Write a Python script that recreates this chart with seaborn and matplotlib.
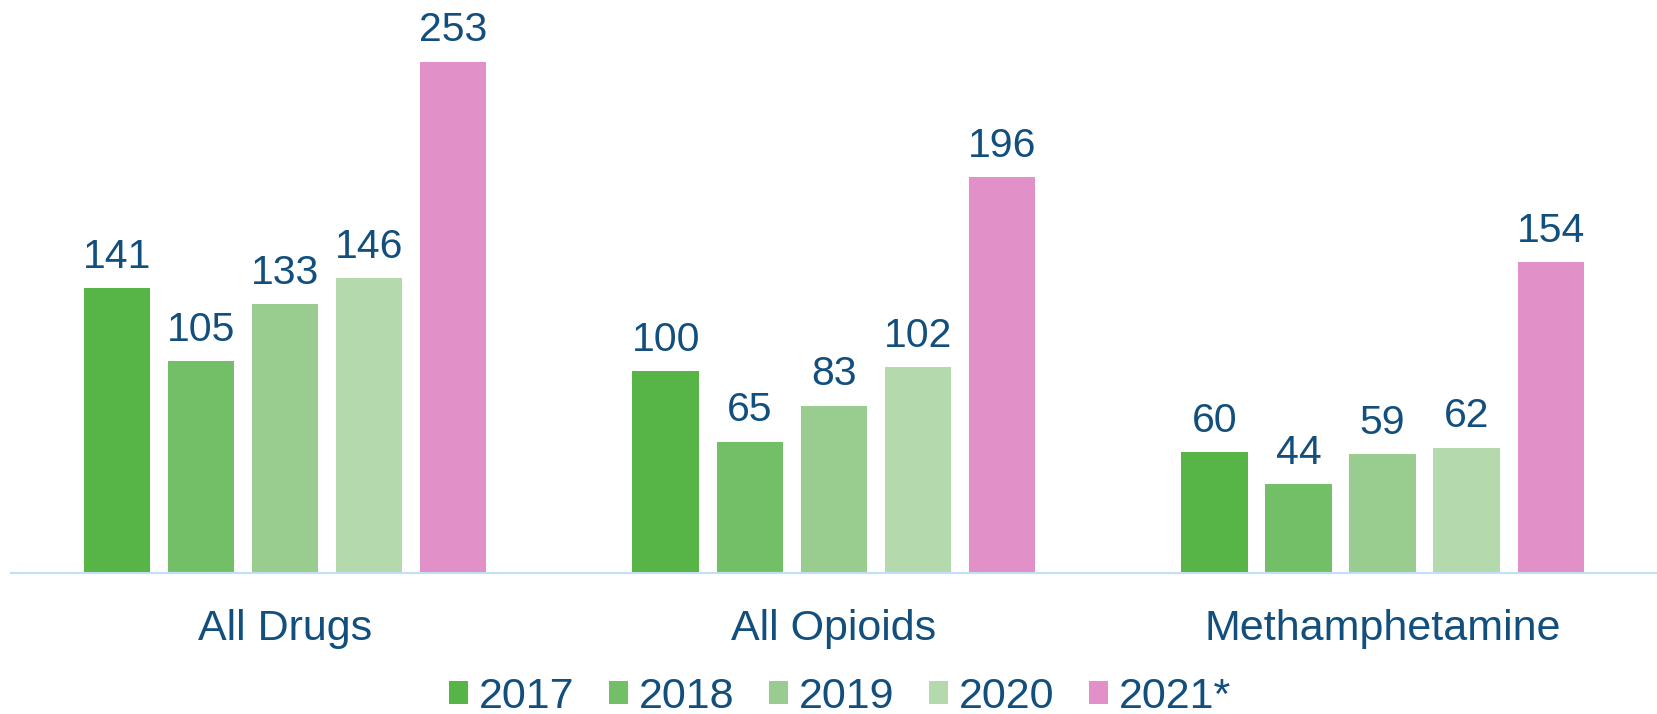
import pandas as pd
import matplotlib
matplotlib.use("Agg")
import matplotlib.pyplot as plt
import seaborn as sns

# datos
categorias = ["All Drugs", "All Opioids", "Methamphetamine"]
anios = ["2017", "2018", "2019", "2020", "2021*"]
v2017 = [141, 100, 60]
v2018 = [105, 65, 44]
v2019 = [133, 83, 59]
v2020 = [146, 102, 62]
v2021 = [253, 196, 154]

colores = ["#57B446", "#73BF68", "#99CC8F", "#B3D9AC", "#E290C8"]
azul = "#124F7D"

filas = []
for anio, valores in zip(anios, [v2017, v2018, v2019, v2020, v2021]):
    for cat, v in zip(categorias, valores):
        filas.append({"categoria": cat, "anio": anio, "valor": v})
df = pd.DataFrame(filas)

sns.set_style("white")
plt.rcParams['font.family'] = ['Liberation Sans', 'DejaVu Sans']

fig = plt.figure(figsize=(16.57, 7.14), dpi=100)
ax = fig.add_axes([0.0064, 0.197, 0.9936, 0.803])

grafico = sns.barplot(ax=ax, data=df, x="categoria", y="valor", hue="anio",
                      palette=colores, width=0.766, gap=0.21,
                      saturation=1, linewidth=0)

for cont in ax.containers:
    ax.bar_label(cont, padding=9, fontsize=29.5, color=azul)

ax.set_ylim(0, 283.6)
ax.set_xlim(-0.5, 2.5)
ax.set_xlabel("")
ax.set_ylabel("")
ax.set_yticks([])
for s in ["top", "right", "left"]:
    ax.spines[s].set_visible(False)
ax.spines["bottom"].set_color("#BFE0F5")
ax.spines["bottom"].set_linewidth(1.5)
ax.tick_params(axis="x", length=0, pad=26, labelsize=31, labelcolor=azul)

leg = ax.legend(loc="center", bbox_to_anchor=(0.507, 0.024), bbox_transform=fig.transFigure,
                ncol=5, frameon=False, fontsize=31, handlelength=0.44, handleheight=0.44,
                handletextpad=0.25, columnspacing=0.81, labelcolor=azul,
                borderpad=0, borderaxespad=0)

fig.savefig("out.png", dpi=100)
